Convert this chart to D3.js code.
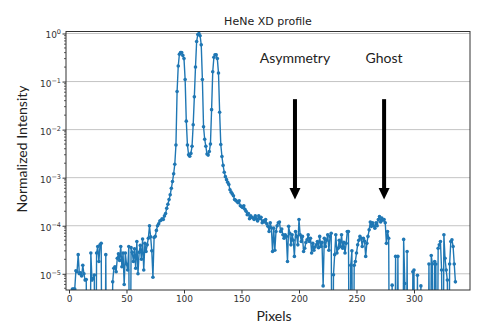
<!DOCTYPE html>
<html><head><meta charset="utf-8">
<script src="https://cdn.jsdelivr.net/npm/d3@7"></script>
<style>body{margin:0;background:#fff} svg{display:block}</style>
</head><body><svg id="c" width="479" height="330"></svg>
<script>
// Normalized intensity per pixel (0 = no signal, drops below axis)
const intensity = [
0,0,0,4.8e-6,4.8e-6,4.8e-6,1.15e-5,1.1e-5,2.5e-5,1.0e-5,
1.05e-5,9e-6,1.5e-5,1.0e-5,7.4e-6,7.6e-6,0,0,0,2.7e-5,
7.4e-6,8e-6,9.4e-6,0,2.7e-5,3.7e-5,1.8e-5,4e-5,4.3e-5,0,
0,0,2.5e-5,0,0,0,0,0,6.8e-6,1.3e-5,
1.4e-5,1.1e-5,2.1e-5,2.6e-5,1.9e-5,3.7e-5,1.4e-5,2.7e-5,6e-6,2.7e-5,
1.6e-5,1.2e-5,3.7e-5,0,3.5e-5,2.8e-5,1.8e-5,3.3e-5,1.3e-5,4.7e-5,
1.0e-5,2.8e-5,3.9e-5,2.0e-5,5.3e-5,1.2e-5,4.3e-5,2.9e-5,4.0e-5,5.5e-5,
1.0e-4,5.9e-5,3.0e-5,8.5e-6,5.7e-5,6.0e-5,8.0e-5,1.0e-4,1.1e-4,1.25e-4,
1.3e-4,1.4e-4,1.35e-4,1.6e-4,1.8e-4,2.3e-4,2.8e-4,3.5e-4,4.4e-4,6.0e-4,
8.3e-4,1.2e-3,1.9e-3,4.8e-3,6.2e-2,0.21,0.37,0.40,0.40,0.35,
0.30,0.11,0.015,4.8e-3,3.0e-3,2.8e-3,3.2e-3,4.5e-3,1.26e-2,4.8e-2,
0.20,0.68,0.95,1.0,0.9,0.58,0.11,1.15e-2,6.3e-3,4.5e-3,
3.1e-3,2.95e-3,3.5e-3,5.0e-3,2.6e-2,0.16,0.32,0.36,0.36,0.30,
0.15,2.3e-2,4.9e-3,2.75e-3,1.8e-3,1.3e-3,1.05e-3,9.1e-4,8.0e-4,7.2e-4,
5.6e-4,5.0e-4,4.6e-4,4.2e-4,3.5e-4,3.4e-4,3.2e-4,3.0e-4,3.3e-4,2.6e-4,
2.5e-4,2.4e-4,2.6e-4,2.2e-4,2.0e-4,1.7e-4,1.8e-4,1.4e-4,1.6e-4,1.5e-4,
1.45e-4,1.35e-4,1.6e-4,1.4e-4,1.26e-4,1.6e-4,1.4e-4,1.5e-4,1.15e-4,1.26e-4,
1.2e-4,1.35e-4,1.1e-4,9.8e-5,7.6e-5,1.15e-4,9e-5,2.9e-5,8.9e-5,3.1e-5,
7.6e-5,1.0e-4,1.15e-4,1.2e-4,7.6e-5,8.5e-5,6.5e-5,5.5e-5,6.5e-5,6e-5,
1.8e-5,9.7e-5,7e-5,4e-5,6.5e-5,5e-5,2.3e-5,7.6e-5,6e-5,4e-5,
1.35e-4,6.5e-5,4.7e-5,6e-5,2.9e-5,3.4e-5,4.5e-5,5.1e-5,6.5e-5,4.7e-5,
5.5e-5,2.7e-5,4.3e-5,3.1e-5,3.6e-5,4e-5,4.7e-5,3.5e-5,6e-5,3.7e-5,
4.5e-5,5.6e-6,5.5e-5,3.7e-5,5e-5,6.5e-5,3.1e-5,6e-5,7e-5,0,
9.5e-6,2.5e-5,6.5e-5,2.7e-5,3.4e-5,5e-5,3.7e-5,6.5e-5,3.4e-5,4.5e-5,
2.7e-5,4.3e-5,7.6e-5,7.6e-5,0,1.5e-5,3e-5,0,1.5e-5,1.8e-5,
2.7e-5,4e-5,5e-5,6e-5,5.5e-5,3.7e-5,5.5e-5,4.8e-5,2.3e-5,4.3e-5,
6e-5,8.2e-5,1.2e-4,9.7e-5,1.15e-4,1.0e-4,8.9e-5,1.15e-4,1.0e-4,1.35e-4,
1.55e-4,1.2e-4,1.45e-4,1.3e-4,1.35e-4,1.15e-4,4.3e-5,7.6e-5,5.5e-5,0,
0,5.8e-6,0,0,2.3e-5,0,2.3e-5,0,0,0,
0,5.2e-5,6.3e-6,0,2.9e-5,0,0,0,0,1.1e-5,
1.2e-5,0,0,9.3e-6,0,0,5.6e-6,0,0,0,
0,0,0,1.6e-5,0,2.4e-5,1.6e-5,0,1.8e-5,1.6e-5,
0,3.4e-5,4e-5,4.7e-5,1.2e-5,0,6.5e-5,2.1e-5,1.2e-5,7.4e-6,
0,1.6e-5,4.7e-5,5.1e-5,3.7e-5,1.6e-5,6.8e-6
];
const pixels = intensity.map((_, i) => i);
const xTicks = [0, 50, 100, 150, 200, 250, 300];
const yTickExponents = [0, -1, -2, -3, -4, -5];
const annotationLabels = ["Asymmetry", "Ghost"];
const annotationPixels = [196.5, 274];

const title = "HeNe XD profile";
const xLabel = "Pixels";
const yLabel = "Normalized Intensity";

const svg = d3.select("#c");
const L = 66, R = 470, T = 31.5, B = 290;
const x = d3.scaleLinear().domain([-2.6, 348.7]).range([L, R]);
const y = d3.scaleLog().domain([4.6e-6, 1.1]).range([B, T]);
const FLOOR = 1e-9;

svg.append("defs").append("clipPath").attr("id", "clip")
  .append("rect").attr("x", L).attr("y", T).attr("width", R - L).attr("height", B - T);

// grid
svg.append("g").selectAll("line").data(yTickExponents).join("line")
  .attr("x1", L).attr("x2", R)
  .attr("y1", d => y(Math.pow(10, d))).attr("y2", d => y(Math.pow(10, d)))
  .attr("stroke", "#c4c4c4").attr("stroke-width", 1);

// data
const g = svg.append("g").attr("clip-path", "url(#clip)");
const pts = pixels.map((p, i) => [p, intensity[i] > 0 ? intensity[i] : FLOOR]);
g.append("path").datum(pts)
  .attr("d", d3.line().x(d => x(d[0])).y(d => y(d[1])))
  .attr("fill", "none").attr("stroke", "#1f77b4").attr("stroke-width", 1.4)
  .attr("stroke-linejoin", "round");
g.selectAll("circle").data(pts.filter(d => d[1] > FLOOR)).join("circle")
  .attr("cx", d => x(d[0])).attr("cy", d => y(d[1])).attr("r", 1.8)
  .attr("fill", "#1f77b4");

// frame
svg.append("rect").attr("x", L).attr("y", T).attr("width", R - L).attr("height", B - T)
  .attr("fill", "none").attr("stroke", "#333").attr("stroke-width", 1);

// x axis
const xa = svg.append("g").attr("transform", `translate(0,${B})`)
  .call(d3.axisBottom(x).tickValues(xTicks).tickSize(3.5).tickPadding(2).tickFormat(d3.format("d")));
xa.select(".domain").remove();
xa.selectAll("line").attr("stroke", "#333");
xa.selectAll("text").attr("font-family", "DejaVu Sans").attr("font-size", 9).attr("fill", "#333");

// y axis
const ya = svg.append("g").attr("transform", `translate(${L},0)`)
  .call(d3.axisLeft(y).tickValues(yTickExponents.map(e => Math.pow(10, e))).tickSize(3.5).tickPadding(2).tickFormat(""));
ya.select(".domain").remove();
ya.selectAll("line").attr("stroke", "#333");
ya.selectAll(".tick").each(function(d) {
  const e = Math.round(Math.log10(d));
  const t = d3.select(this).select("text")
    .attr("font-family", "DejaVu Sans").attr("font-size", 9).attr("fill", "#333")
    .attr("x", -5).attr("dy", "0.5em");
  t.text(null);
  t.append("tspan").text("10");
  t.append("tspan").attr("dy", "-4").attr("font-size", 6.5).text(e < 0 ? "\u2212" + (-e) : String(e));
});
// minor ticks
const minors = [];
for (let k = -6; k <= 0; k++) for (let m = 2; m <= 9; m++) {
  const v = m * Math.pow(10, k);
  if (v >= y.domain()[0] && v <= y.domain()[1]) minors.push(v);
}
svg.append("g").selectAll("line").data(minors).join("line")
  .attr("x1", L - 2).attr("x2", L).attr("y1", d => y(d)).attr("y2", d => y(d))
  .attr("stroke", "#333").attr("stroke-width", 0.8);

// title and labels
svg.append("text").attr("x", (L + R) / 2).attr("y", 25).attr("text-anchor", "middle")
  .attr("font-family", "DejaVu Sans").attr("font-size", 11).attr("fill", "#222").text(title);
svg.append("text").attr("x", (L + R) / 2 + 6).attr("y", 321).attr("text-anchor", "middle")
  .attr("font-family", "Lato").attr("font-size", 14).attr("fill", "#222").text(xLabel);
svg.append("text").attr("transform", "translate(27,149) rotate(-90)").attr("text-anchor", "middle")
  .attr("font-family", "Lato").attr("font-size", 14).attr("fill", "#222").text(yLabel);

// annotations
const ann = svg.append("g");
annotationLabels.forEach((lab, i) => {
  const ax = x(annotationPixels[i]);
  ann.append("text").attr("x", ax).attr("y", y(0.24)).attr("text-anchor", "middle")
    .attr("font-family", "Lato").attr("font-size", 14).attr("fill", "#222").text(lab);
  const top = y(0.043), tip = y(3.5e-4), headTop = tip - 11.5;
  ann.append("rect").attr("x", ax - 2).attr("y", top).attr("width", 4).attr("height", headTop - top).attr("fill", "#000");
  ann.append("path").attr("d", `M${ax - 5.5},${headTop}L${ax + 5.5},${headTop}L${ax},${tip}Z`).attr("fill", "#000");
});
</script></body></html>
